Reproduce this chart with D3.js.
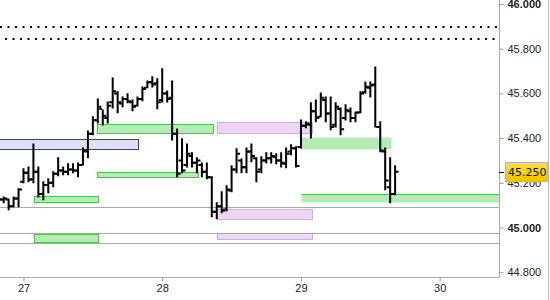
<!DOCTYPE html>
<html>
<head>
<meta charset="utf-8">
<script src="https://cdn.jsdelivr.net/npm/d3@7.9.0/dist/d3.min.js"></script>
<style>
  body { margin: 0; background: #fff; }
  svg { display: block; font-family: "DejaVu Sans", sans-serif; }
</style>
</head>
<body>
<div id="chart"></div>
<script>
// bars: 28 per day, first one is 5 bars before day 27 starts
const firstBar = -5;
const barsPerDay = 28;
const dayTicks = [27, 28, 29, 30];
const priceTicks = [44.8, 45.0, 45.2, 45.4, 45.6, 45.8, 46.0];
const lastPrice = 45.25;

const barOpen = [
  45.130, 45.125, 45.125, 45.095, 45.130,
  45.205, 45.245, 45.215, 45.250, 45.150, 45.190, 45.200, 45.240, 45.255, 45.250,
  45.260, 45.255, 45.280, 45.340, 45.420, 45.480, 45.530, 45.490, 45.560, 45.600,
  45.555, 45.575, 45.560, 45.545, 45.575, 45.625, 45.650, 45.645, 45.570, 45.600,
  45.580, 45.420, 45.300, 45.280, 45.320, 45.290, 45.280, 45.250, 45.225, 45.070,
  45.095, 45.080, 45.165, 45.260, 45.300, 45.270, 45.340, 45.310, 45.260, 45.300,
  45.310, 45.315, 45.300, 45.285, 45.340, 45.355, 45.360, 45.455, 45.460, 45.520,
  45.495, 45.570, 45.510, 45.460, 45.530, 45.490, 45.520, 45.490, 45.515, 45.605,
  45.625, 45.640, 45.450, 45.340, 45.180, 45.150
];
const barHigh = [
  45.142, 45.137, 45.128, 45.137, 45.173,
  45.263, 45.271, 45.374, 45.271, 45.205, 45.218, 45.249, 45.312, 45.271, 45.285,
  45.285, 45.289, 45.356, 45.432, 45.495, 45.575, 45.526, 45.562, 45.669, 45.607,
  45.584, 45.598, 45.571, 45.584, 45.629, 45.656, 45.674, 45.665, 45.710, 45.611,
  45.656, 45.441, 45.397, 45.374, 45.334, 45.312, 45.289, 45.289, 45.227, 45.111,
  45.160, 45.187, 45.276, 45.352, 45.307, 45.356, 45.374, 45.312, 45.316, 45.334,
  45.334, 45.330, 45.334, 45.356, 45.370, 45.361, 45.481, 45.473, 45.558, 45.571,
  45.602, 45.584, 45.584, 45.558, 45.535, 45.549, 45.535, 45.517, 45.607, 45.651,
  45.651, 45.718, 45.473, 45.356, 45.312, 45.276
];
const barLow = [
  45.119, 45.111, 45.079, 45.093, 45.093,
  45.200, 45.205, 45.200, 45.137, 45.124, 45.155, 45.182, 45.231, 45.236, 45.236,
  45.245, 45.227, 45.280, 45.312, 45.415, 45.468, 45.459, 45.468, 45.535, 45.513,
  45.540, 45.558, 45.522, 45.544, 45.567, 45.625, 45.629, 45.531, 45.562, 45.562,
  45.392, 45.227, 45.245, 45.271, 45.271, 45.245, 45.227, 45.218, 45.048, 45.039,
  45.066, 45.075, 45.160, 45.245, 45.245, 45.245, 45.294, 45.205, 45.245, 45.289,
  45.289, 45.285, 45.271, 45.267, 45.325, 45.271, 45.356, 45.446, 45.401, 45.473,
  45.495, 45.473, 45.437, 45.450, 45.415, 45.481, 45.473, 45.473, 45.513, 45.602,
  45.584, 45.450, 45.339, 45.169, 45.111, 45.146
];
const barClose = [
  45.125, 45.130, 45.095, 45.130, 45.170,
  45.245, 45.215, 45.250, 45.150, 45.190, 45.200, 45.240, 45.255, 45.250, 45.260,
  45.255, 45.280, 45.345, 45.420, 45.480, 45.540, 45.500, 45.545, 45.610, 45.560,
  45.575, 45.565, 45.540, 45.575, 45.620, 45.650, 45.640, 45.560, 45.600, 45.575,
  45.420, 45.240, 45.255, 45.330, 45.290, 45.300, 45.250, 45.225, 45.070, 45.095,
  45.075, 45.170, 45.260, 45.330, 45.270, 45.340, 45.320, 45.250, 45.300, 45.310,
  45.320, 45.300, 45.290, 45.330, 45.355, 45.275, 45.455, 45.465, 45.520, 45.490,
  45.580, 45.510, 45.450, 45.540, 45.440, 45.525, 45.490, 45.515, 45.600, 45.630,
  45.635, 45.450, 45.345, 45.210, 45.150, 45.250
];

// zones: day positions and price bounds
const zoneKind   = ["blue", "green", "lilac", "flat", "green", "green", "green", "top", "lilac", "lilac"];
const zoneFrom   = [26.50, 27.529, 28.395, 28.993, 27.075, 27.529, 27.075, 29.000, 28.395, 28.395];
const zoneTo     = [27.823, 28.364, 29.079, 29.650, 27.536, 28.257, 27.536, 30.600, 29.079, 29.079];
const zoneTop    = [45.395, 45.464, 45.472, 45.407, 45.143, 45.248, 44.972, 45.152, 45.082, 44.975];
const zoneBottom = [45.351, 45.424, 45.421, 45.351, 45.116, 45.224, 44.933, 45.112, 45.036, 44.947];

const grayLevels = [45.091, 44.975, 44.930];
const dottedLevels = [45.897, 45.843];

const zoneStyle = {
  blue:  { fill: "#dfe0f8", stroke: "#3535b5" },
  green: { fill: "#b5ebb5", stroke: "#44c944" },
  lilac: { fill: "#ebd6f4", stroke: "#d6a9ea" },
  flat:  { fill: "#b5ebb5", stroke: "none" },
  top:   { fill: "#b5ebb5", stroke: "none" }
};

const width = 550;
const height = 300;
const plotRight = 499;
const plotBottom = 277;

const svg = d3.select("#chart")
  .append("svg")
  .attr("width", width)
  .attr("height", height);

const x = d3.scaleLinear().domain([27, 30]).range([23.5, 439.7]);
const y = d3.scaleLinear().domain([44.8, 46]).range([272.2, 4]);

svg.append("clipPath")
  .attr("id", "plot-clip")
  .append("rect")
  .attr("x", 0).attr("y", 0)
  .attr("width", plotRight).attr("height", plotBottom);

const plot = svg.append("g").attr("clip-path", "url(#plot-clip)");

// zones
const zones = zoneKind.map((k, i) => ({
  kind: k, from: zoneFrom[i], to: zoneTo[i], top: zoneTop[i], bottom: zoneBottom[i]
}));

plot.append("g")
  .selectAll("rect")
  .data(zones)
  .join("rect")
  .attr("x", d => Math.round(x(d.from)) + 0.5)
  .attr("y", d => Math.round(y(d.top)) + 0.5)
  .attr("width", d => Math.round(x(d.to)) - Math.round(x(d.from)))
  .attr("height", d => Math.round(y(d.bottom)) - Math.round(y(d.top)))
  .attr("fill", d => zoneStyle[d.kind].fill)
  .attr("stroke", d => zoneStyle[d.kind].stroke)
  .attr("stroke-width", 1);

// green line on top of the last zone
plot.append("g")
  .selectAll("line")
  .data(zones.filter(d => d.kind === "top"))
  .join("line")
  .attr("x1", d => x(d.from))
  .attr("x2", d => x(d.to))
  .attr("y1", d => Math.round(y(d.top)) + 0.5)
  .attr("y2", d => Math.round(y(d.top)) + 0.5)
  .attr("stroke", "#44c944");

// gray levels
plot.append("g")
  .selectAll("line")
  .data(grayLevels)
  .join("line")
  .attr("x1", 0)
  .attr("x2", plotRight)
  .attr("y1", d => Math.round(y(d)) + 0.5)
  .attr("y2", d => Math.round(y(d)) + 0.5)
  .attr("stroke", "#a9a9a9")
  .attr("stroke-width", 1.2);

// dotted levels
plot.append("g")
  .selectAll("line")
  .data(dottedLevels)
  .join("line")
  .attr("x1", (d, i) => i === 0 ? 0 : 5)
  .attr("x2", 497)
  .attr("y1", d => Math.round(y(d)))
  .attr("y2", d => Math.round(y(d)))
  .attr("stroke", "#000")
  .attr("stroke-width", 2)
  .attr("stroke-dasharray", "2,5.5");

// ohlc bars
const bars = barOpen.map((o, i) => ({
  t: 27 + (firstBar + i) / barsPerDay,
  open: o, high: barHigh[i], low: barLow[i], close: barClose[i]
}));

plot.append("g")
  .selectAll("path")
  .data(bars)
  .join("path")
  .attr("d", d => {
    const cx = x(d.t);
    return `M${cx},${y(d.high) - 0.5}V${y(d.low) + 0.5}` +
      `M${cx - 1},${y(d.open)}H${cx - 3.5}` +
      `M${cx + 1},${y(d.close)}H${cx + 3.5}`;
  })
  .attr("fill", "none")
  .attr("stroke", "#000")
  .attr("stroke-width", 2);

// frame lines
svg.append("line")
  .attr("x1", plotRight + 0.5).attr("x2", plotRight + 0.5)
  .attr("y1", 0).attr("y2", plotBottom + 0.5)
  .attr("stroke", "#aaa");

svg.append("line")
  .attr("x1", 0).attr("x2", plotRight + 0.5)
  .attr("y1", plotBottom + 0.5).attr("y2", plotBottom + 0.5)
  .attr("stroke", "#aaa");

svg.append("line")
  .attr("x1", 548.5).attr("x2", 548.5)
  .attr("y1", 0).attr("y2", height)
  .attr("stroke", "#bbb");

// price axis
const yAxis = svg.append("g")
  .attr("transform", `translate(${plotRight + 0.5},0)`)
  .call(d3.axisRight(y)
    .tickValues(priceTicks)
    .tickSize(4)
    .tickPadding(4)
    .tickFormat(d3.format(".3f")));

yAxis.select(".domain").remove();
yAxis.selectAll(".tick line").attr("stroke", "#999");
yAxis.selectAll(".tick text")
  .attr("fill", "#222")
  .style("font-size", "11px")
  .style("font-weight", d => Number.isInteger(Math.round(d * 1000) / 1000) ? "bold" : "normal");

// date axis
const xAxis = svg.append("g")
  .attr("transform", `translate(0,${plotBottom + 0.5})`)
  .call(d3.axisBottom(x)
    .tickValues(dayTicks)
    .tickSize(4)
    .tickFormat(d3.format("d")));

xAxis.select(".domain").remove();
xAxis.selectAll(".tick line").attr("stroke", "#999");
xAxis.selectAll(".tick text")
  .attr("fill", "#222")
  .style("font-size", "11px");

// last price badge
const defs = svg.append("defs");
const grad = defs.append("linearGradient")
  .attr("id", "badge-grad")
  .attr("x1", 0).attr("y1", 0).attr("x2", 0).attr("y2", 1);
grad.append("stop").attr("offset", "0%").attr("stop-color", "#ffe03c");
grad.append("stop").attr("offset", "100%").attr("stop-color", "#f2c000");

const by = Math.round(y(lastPrice));

svg.append("line")
  .attr("x1", plotRight).attr("x2", plotRight + 5)
  .attr("y1", by + 0.5).attr("y2", by + 0.5)
  .attr("stroke", "#000");

svg.append("rect")
  .attr("x", 505.5)
  .attr("y", by - 9.5)
  .attr("width", 42)
  .attr("height", 19)
  .attr("fill", "url(#badge-grad)")
  .attr("stroke", "#b5b5b5");

svg.append("text")
  .attr("x", 508)
  .attr("y", by)
  .attr("dy", "0.35em")
  .attr("fill", "#111")
  .style("font-size", "11px")
  .text(d3.format(".3f")(lastPrice));
</script>
</body>
</html>
